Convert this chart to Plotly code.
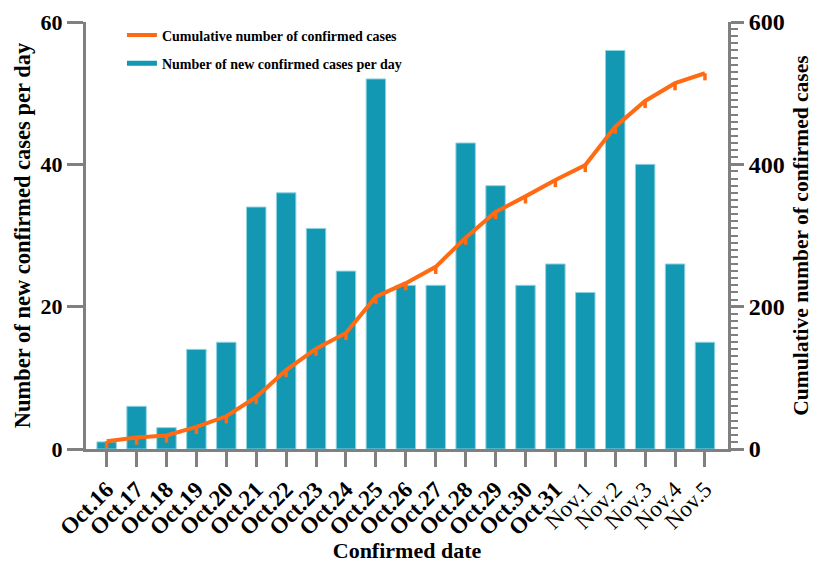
import plotly.graph_objects as go

# Daily and cumulative confirmed cases
dates = ["Oct.16", "Oct.17", "Oct.18", "Oct.19", "Oct.20", "Oct.21", "Oct.22",
         "Oct.23", "Oct.24", "Oct.25", "Oct.26", "Oct.27", "Oct.28", "Oct.29",
         "Oct.30", "Oct.31", "Nov.1", "Nov.2", "Nov.3", "Nov.4", "Nov.5"]
new_cases = [1, 6, 3, 14, 15, 34, 36, 31, 25, 52, 23, 23, 43, 37, 23, 26, 22,
             56, 40, 26, 15]
cumulative = [11, 16, 19, 31, 46, 73, 111, 141, 163, 214, 233, 256, 297, 333,
              355, 378, 399, 453, 489, 514, 528]

TEAL = "#1298b3"
ORANGE = "#ff6a13"
GREY = "#808080"
SERIF = "Liberation Serif"

idx = list(range(len(dates)))
tick_text = [f"<b>{d}</b>" if d.startswith("Oct") else d for d in dates]

fig = go.Figure()

fig.add_trace(go.Bar(
    x=idx, y=new_cases, width=0.65,
    marker=dict(color=TEAL, line=dict(color="#8fd3e2", width=1)),
    showlegend=False, yaxis="y",
))

fig.add_trace(go.Scatter(
    x=idx, y=cumulative, mode="lines", yaxis="y2",
    name="Cumulative number of confirmed cases", legendgroup="cum",
    line=dict(color=ORANGE, width=4),
    error_y=dict(type="constant", value=0, valueminus=10, symmetric=False,
                 color=ORANGE, thickness=3.5, width=0),
))

# legend-only entry for the bars, shown as a line sample
fig.add_trace(go.Scatter(
    x=[None], y=[None], mode="lines", yaxis="y",
    name="Number of new confirmed cases per day", legendgroup="new",
    line=dict(color=TEAL, width=5),
))

fig.update_layout(
    width=823, height=563,
    margin=dict(l=86, r=95, t=22, b=114),
    plot_bgcolor="white", paper_bgcolor="white",
    font=dict(family=SERIF, color="black"),
    legend=dict(
        x=0.056, y=1.006, xanchor="left", yanchor="top",
        font=dict(family=SERIF, size=14, weight="bold"),
        bgcolor="rgba(0,0,0,0)", tracegroupgap=7,
    ),
    xaxis=dict(
        range=[-0.69, 20.77], automargin=False,
        tickmode="array", tickvals=idx, ticktext=tick_text, tickangle=-45,
        tickfont=dict(family=SERIF, size=23),
        ticks="outside", ticklen=15, tickwidth=3, tickcolor=GREY,
        showline=True, linewidth=3, linecolor=GREY,
        showgrid=False, zeroline=False,
        title=dict(text="Confirmed date", standoff=0,
                   font=dict(family=SERIF, size=22, weight="bold")),
    ),
    yaxis=dict(
        range=[0, 60], tickvals=[0, 20, 40, 60], automargin=False,
        tickfont=dict(family=SERIF, size=22, weight="bold"),
        ticks="outside", ticklen=16, tickwidth=3, tickcolor=GREY,
        showline=True, linewidth=3, linecolor=GREY,
        showgrid=False, zeroline=False,
        title=dict(text="Number of new confirmed cases per day", standoff=4,
                   font=dict(family=SERIF, size=22.5, weight="bold")),
    ),
    yaxis2=dict(
        range=[0, 600], tickvals=[0, 200, 400, 600], overlaying="y",
        side="right", automargin=False,
        tickfont=dict(family=SERIF, size=24, weight="bold"),
        ticks="outside", ticklen=13, tickwidth=3, tickcolor=GREY,
        minor=dict(dtick=10, ticks="outside", ticklen=7, tickwidth=2,
                   tickcolor=GREY, showgrid=False),
        showline=True, linewidth=3, linecolor=GREY,
        showgrid=False, zeroline=False,
        title=dict(text="Cumulative number of confirmed cases", standoff=10,
                   font=dict(family=SERIF, size=21.5, weight="bold")),
    ),
)

fig.write_html("out.html")
